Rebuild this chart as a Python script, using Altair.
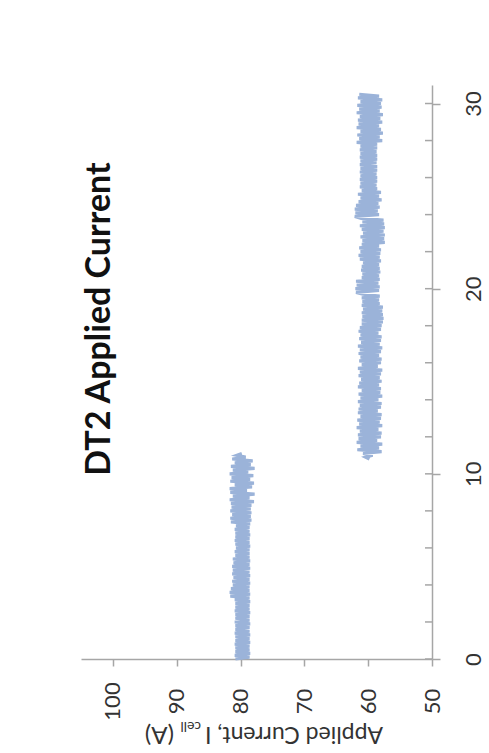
import altair as alt
import numpy as np
import pandas as pd

# Applied cell current (A), logged every 0.1 h
STEP_H = 0.1

# 80 A stage, starting at t = 0.0 h
HIGH_START_H = 0.0
CURRENT_HIGH = [
    80.8, 78.6, 80.9, 78.5, 80.8, 78.6, 80.8, 78.6, 80.9, 78.5,
    80.8, 78.6, 80.8, 78.5, 80.9, 78.6, 80.8, 78.6, 80.8, 78.5,
    80.9, 78.6, 80.8, 78.6, 80.8, 78.5, 80.9, 78.6, 80.8, 78.6,
    80.8, 78.5, 80.9, 78.6,
    81.6, 78.5, 81.7, 78.6, 81.5, 78.6,
    81.2, 78.5, 81.3, 78.6, 81.1, 78.5, 81.3, 78.6, 81.2, 78.5,
    81.3, 78.6, 81.1, 78.5, 81.2, 78.6,
    80.8, 78.6, 80.9, 78.6, 80.7, 78.5, 80.8, 78.6, 80.9, 78.6,
    80.8, 78.5, 80.8, 78.6, 80.9, 78.6, 80.7, 78.5,
    81.5, 78.3, 81.6, 78.4, 81.3, 78.3, 81.6, 78.4, 81.4, 78.3, 81.5,
    77.9, 81.7, 78.6, 81.2, 77.8, 81.6, 79.0, 81.7, 78.2, 80.9,
    77.9, 81.6, 78.5, 81.4, 78.0, 81.7, 78.8, 81.2, 77.8, 81.5,
    78.4, 80.9, 78.1, 81.3, 79.2, 80.6, 79.8,
]

# 60 A stage, starting at t = 10.8 h
LOW_START_H = 10.8
CURRENT_LOW = [
    59.8, 60.4, 59.3, 60.8,
    57.9, 61.7, 58.3, 61.2, 57.8, 61.8, 58.6, 61.5, 58.0, 61.6,
    57.9, 61.3, 58.4, 61.8, 57.8, 61.4, 58.2, 61.7, 58.0, 61.2,
    57.9, 61.6, 58.5,
    61.5, 58.0, 61.3, 57.9, 61.6, 58.4, 61.2, 57.8, 61.5, 58.1,
    61.0, 58.0, 61.6, 58.3, 61.4, 57.9, 61.1, 58.2, 61.5, 58.0,
    61.3, 57.8, 61.6, 58.5, 61.0, 58.0, 61.4, 57.9, 61.2, 58.3,
    61.5, 58.0, 61.3, 57.8, 61.6, 58.2, 61.1, 58.0, 61.4, 57.9,
    61.2, 58.4, 61.5, 58.0, 61.3, 57.9, 61.0,
    57.7, 61.0, 57.6, 60.9, 57.7, 61.0, 57.8, 60.8, 57.7,
    61.0, 58.2, 60.9, 58.3, 61.0, 58.2, 60.8,
    61.9, 58.3, 62.0, 58.2, 61.8, 58.4, 61.9,
    58.2, 61.0, 58.3, 60.9, 58.1, 61.1, 58.2, 61.0, 58.3, 60.8,
    58.0, 61.3, 58.2, 61.5, 58.1, 61.2, 58.0, 61.4, 58.3, 61.0,
    57.4, 60.9, 57.5, 61.2, 57.4, 60.8, 57.6, 61.0, 57.4, 61.3,
    57.5, 60.9, 57.6, 61.1,
    62.1, 58.3, 62.0, 58.5, 62.1, 58.2, 61.9, 58.4,
    61.5, 57.9, 61.2, 58.3, 61.6, 58.0, 61.0,
    58.6, 61.3, 58.7, 61.2, 58.6, 61.3, 58.6, 61.2, 58.7, 61.3,
    58.6, 61.2, 58.6, 61.3, 58.7, 61.2, 58.6, 61.3, 58.6, 61.2,
    58.7, 61.3, 58.6, 61.2, 58.6,
    61.8, 57.8, 61.4, 58.2, 61.7, 57.7, 61.2, 58.0, 61.8, 58.3,
    61.5, 57.8, 61.6, 58.1, 61.3, 57.7, 61.8, 58.2, 61.4, 57.9,
    61.7, 58.0, 61.2, 57.8, 61.6, 58.3, 61.4,
]

CURRENT_TICKS = [50, 60, 70, 80, 90, 100]
TIME_LABEL_TICKS = [0, 10, 20, 30]
TIME_MINOR_TICKS = list(range(0, 31, 2))

TITLE = "DT2 Applied Current"
AXIS_TITLE_MAIN = "Applied Current, I"
AXIS_TITLE_SUB = "cell"
AXIS_TITLE_UNIT = "(A)"

SERIES_COLOR = "#9bb3d9"
AXIS_COLOR = "#a6a6a6"
TEXT_COLOR = "#333333"
FONT = "Lato"

W, H = 351, 574


def stage(values, start, name):
    t = np.round(start + STEP_H * np.arange(len(values)), 2)
    return pd.DataFrame({"time": t, "current": values, "stage": name})


series = pd.concat(
    [stage(CURRENT_HIGH, HIGH_START_H, "80 A"), stage(CURRENT_LOW, LOW_START_H, "60 A")],
    ignore_index=True,
)

x_scale = alt.Scale(domain=[50, 105], reverse=True, nice=False, zero=False)
y_scale = alt.Scale(domain=[0, 31], nice=False, zero=False)

time_axis = alt.Axis(
    orient="right",
    values=TIME_LABEL_TICKS,
    title=None,
    grid=False,
    labelAngle=270,
    labelAlign="center",
    labelBaseline="middle",
    labelPadding=33,
    labelFlush=False,
    labelOverlap=False,
    labelFont=FONT,
    labelFontSize=22,
    labelColor=TEXT_COLOR,
    tickSize=8,
    tickColor=AXIS_COLOR,
    domainColor=AXIS_COLOR,
    domainWidth=1.5,
    tickWidth=1.5,
)

current_axis = alt.Axis(
    values=CURRENT_TICKS,
    title=None,
    grid=False,
    labelAngle=270,
    labelAlign="center",
    labelBaseline="middle",
    labelPadding=35,
    labelFlush=False,
    labelOverlap=False,
    labelFont=FONT,
    labelFontSize=22,
    labelColor=TEXT_COLOR,
    tickSize=7,
    tickColor=AXIS_COLOR,
    domainColor=AXIS_COLOR,
    domainWidth=1.5,
    tickWidth=1.5,
)

lines = alt.Chart(series).mark_line(
    color=SERIES_COLOR, strokeWidth=3.2
).encode(
    x=alt.X("current:Q", scale=x_scale, axis=current_axis),
    y=alt.Y("time:Q", scale=y_scale, axis=time_axis),
    detail="stage:N",
    order="time:Q",
)

# inward minor ticks along the time axis
minor = alt.Chart(pd.DataFrame({"time": TIME_MINOR_TICKS})).mark_rule(
    color=AXIS_COLOR, strokeWidth=1.5
).encode(
    y=alt.Y("time:Q", scale=y_scale, axis=time_axis),
    x=alt.value(W - 7),
    x2=alt.value(W),
)

title = alt.Chart(pd.DataFrame({"label": [TITLE]})).mark_text(
    angle=270, align="center", baseline="middle", font=FONT, fontSize=34,
    fontWeight="bold", color="#111111",
).encode(text="label:N", x=alt.value(19), y=alt.value(234))


def axis_title_piece(text, x, y, size):
    return alt.Chart(pd.DataFrame({"label": [text]})).mark_text(
        angle=180, align="left", baseline="alphabetic", font=FONT,
        fontSize=size, color=TEXT_COLOR,
    ).encode(text="label:N", x=alt.value(x), y=alt.value(y))


axis_title = (
    axis_title_piece(AXIS_TITLE_MAIN, 302, 642, 23)
    + axis_title_piece(AXIS_TITLE_SUB, 120, 637, 14)
    + axis_title_piece(AXIS_TITLE_UNIT, 93, 642, 24)
)

chart = alt.layer(lines, minor, title, axis_title).properties(
    width=W,
    height=H,
    padding={"left": 81, "top": 85, "right": 57, "bottom": 94},
    autosize=alt.AutoSizeParams(type="none"),
    background="white",
).configure_view(stroke=None)

chart.save("out.html", embed_options={"renderer": "svg", "actions": False})
